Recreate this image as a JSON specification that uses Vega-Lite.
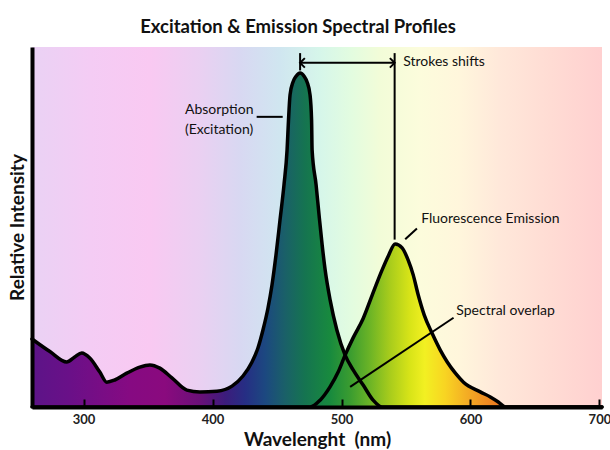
{
  "$schema": "https://vega.github.io/schema/vega-lite/v6.json",
  "width": 570,
  "height": 360,
  "autosize": "none",
  "padding": {"left": 32, "top": 47, "right": 8, "bottom": 43},
  "background": "white",
  "config": {"view": {"stroke": null}, "font": "Lato"},
  "title": {"text": "Excitation & Emission Spectral Profiles", "font": "Lato", "fontSize": 18.5, "fontWeight": "bold", "color": "#111", "anchor": "middle", "dx": -19, "offset": 11},
  "datasets": {
    "bg": [{"x0": 260, "x1": 702, "y0": 0, "y1": 100}],
    "curves": [
      {"curve": "Absorption", "wl": 260, "v": 18.9},
      {"curve": "Absorption", "wl": 273.9, "v": 15.4},
      {"curve": "Absorption", "wl": 286.9, "v": 12.5},
      {"curve": "Absorption", "wl": 293.1, "v": 13.9},
      {"curve": "Absorption", "wl": 298.6, "v": 15.0},
      {"curve": "Absorption", "wl": 304.8, "v": 13.6},
      {"curve": "Absorption", "wl": 312.6, "v": 9.7},
      {"curve": "Absorption", "wl": 318.0, "v": 6.9},
      {"curve": "Absorption", "wl": 324.2, "v": 7.5},
      {"curve": "Absorption", "wl": 333.5, "v": 9.4},
      {"curve": "Absorption", "wl": 343.6, "v": 11.1},
      {"curve": "Absorption", "wl": 351.4, "v": 11.7},
      {"curve": "Absorption", "wl": 359.1, "v": 10.8},
      {"curve": "Absorption", "wl": 368.5, "v": 8.1},
      {"curve": "Absorption", "wl": 380.1, "v": 4.7},
      {"curve": "Absorption", "wl": 390.2, "v": 4.2},
      {"curve": "Absorption", "wl": 403.4, "v": 4.4},
      {"curve": "Absorption", "wl": 415.1, "v": 5.8},
      {"curve": "Absorption", "wl": 423.6, "v": 8.6},
      {"curve": "Absorption", "wl": 430.6, "v": 12.5},
      {"curve": "Absorption", "wl": 435.2, "v": 16.4},
      {"curve": "Absorption", "wl": 439.1, "v": 21.4},
      {"curve": "Absorption", "wl": 443.0, "v": 27.5},
      {"curve": "Absorption", "wl": 446.1, "v": 33.9},
      {"curve": "Absorption", "wl": 449.2, "v": 42.2},
      {"curve": "Absorption", "wl": 452.3, "v": 51.9},
      {"curve": "Absorption", "wl": 455.4, "v": 61.7},
      {"curve": "Absorption", "wl": 457.8, "v": 71.4},
      {"curve": "Absorption", "wl": 458.9, "v": 79.7},
      {"curve": "Absorption", "wl": 460.1, "v": 86.7},
      {"curve": "Absorption", "wl": 462.4, "v": 90.3},
      {"curve": "Absorption", "wl": 464.8, "v": 91.9},
      {"curve": "Absorption", "wl": 467.9, "v": 92.8},
      {"curve": "Absorption", "wl": 471.0, "v": 91.9},
      {"curve": "Absorption", "wl": 473.3, "v": 90.3},
      {"curve": "Absorption", "wl": 475.6, "v": 86.7},
      {"curve": "Absorption", "wl": 476.8, "v": 79.7},
      {"curve": "Absorption", "wl": 477.2, "v": 71.4},
      {"curve": "Absorption", "wl": 480.3, "v": 61.7},
      {"curve": "Absorption", "wl": 482.6, "v": 53.3},
      {"curve": "Absorption", "wl": 485.0, "v": 45.0},
      {"curve": "Absorption", "wl": 487.3, "v": 38.1},
      {"curve": "Absorption", "wl": 491.2, "v": 29.7},
      {"curve": "Absorption", "wl": 496.4, "v": 21.4},
      {"curve": "Absorption", "wl": 502.8, "v": 14.4},
      {"curve": "Absorption", "wl": 509.0, "v": 10.3},
      {"curve": "Absorption", "wl": 516.8, "v": 6.1},
      {"curve": "Absorption", "wl": 524.5, "v": 1.9},
      {"curve": "Absorption", "wl": 531.5, "v": 0},
      {"curve": "Absorption", "wl": 702, "v": 0},
      {"curve": "Emission", "wl": 260, "v": 0},
      {"curve": "Emission", "wl": 475.6, "v": 0},
      {"curve": "Emission", "wl": 483.4, "v": 1.9},
      {"curve": "Emission", "wl": 491.1, "v": 5.6},
      {"curve": "Emission", "wl": 497.4, "v": 9.7},
      {"curve": "Emission", "wl": 502.8, "v": 14.4},
      {"curve": "Emission", "wl": 509.0, "v": 19.2},
      {"curve": "Emission", "wl": 516.8, "v": 24.6},
      {"curve": "Emission", "wl": 523.8, "v": 31.1},
      {"curve": "Emission", "wl": 531.5, "v": 38.1},
      {"curve": "Emission", "wl": 536.2, "v": 41.9},
      {"curve": "Emission", "wl": 541.6, "v": 45.3},
      {"curve": "Emission", "wl": 547.0, "v": 44.2},
      {"curve": "Emission", "wl": 551.7, "v": 40.8},
      {"curve": "Emission", "wl": 555.6, "v": 36.7},
      {"curve": "Emission", "wl": 559.5, "v": 31.1},
      {"curve": "Emission", "wl": 564.1, "v": 25.6},
      {"curve": "Emission", "wl": 570.1, "v": 20.6},
      {"curve": "Emission", "wl": 576.6, "v": 15.8},
      {"curve": "Emission", "wl": 582.0, "v": 12.5},
      {"curve": "Emission", "wl": 588.3, "v": 9.4},
      {"curve": "Emission", "wl": 594.6, "v": 6.9},
      {"curve": "Emission", "wl": 607.6, "v": 4.2},
      {"curve": "Emission", "wl": 615.4, "v": 2.8},
      {"curve": "Emission", "wl": 621.6, "v": 1.4},
      {"curve": "Emission", "wl": 627.1, "v": 0},
      {"curve": "Emission", "wl": 702, "v": 0}
    ],
    "rules": [
      {"name": "excitation peak marker", "x": 467.9, "x2": 467.9, "y": 98.3, "y2": 93.5},
      {"name": "emission peak marker", "x": 541.2, "x2": 541.2, "y": 98.3, "y2": 46.5},
      {"name": "stokes shift", "x": 467.9, "x2": 541.2, "y": 95.6, "y2": 95.6},
      {"name": "absorption pointer", "x": 434.2, "x2": 454.4, "y": 80.6, "y2": 80.6},
      {"name": "emission pointer", "x": 549.4, "x2": 558.5, "y": 46.6, "y2": 49.6},
      {"name": "overlap pointer", "x": 506.7, "x2": 586.9, "y": 5.6, "y2": 24.8}
    ],
    "arrows": [
      {"dir": "left", "x": 467.9, "y": 95.6},
      {"dir": "right", "x": 541.2, "y": 95.6}
    ],
    "labels": [
      {"text": "Strokes shifts", "x": 547.8, "y": 95.7},
      {"text": "Absorption", "x": 378.6, "y": 82.5},
      {"text": "(Excitation)", "x": 378.6, "y": 77.0},
      {"text": "Fluorescence Emission", "x": 561.8, "y": 52.1},
      {"text": "Spectral overlap", "x": 589.0, "y": 26.7}
    ]
  },
  "layer": [
    {
      "data": {"name": "bg"},
      "mark": {"type": "rect", "color": {"gradient": "linear", "x1": 0, "y1": 0, "x2": 1, "y2": 0, "stops": [
        {"offset": 0, "color": "#ead2f4"},
        {"offset": 0.102, "color": "#f4ccf4"},
        {"offset": 0.207, "color": "#f9c9f2"},
        {"offset": 0.295, "color": "#ead0f2"},
        {"offset": 0.365, "color": "#d8d8f2"},
        {"offset": 0.435, "color": "#d0e6f0"},
        {"offset": 0.505, "color": "#d6f6ea"},
        {"offset": 0.558, "color": "#e2fce0"},
        {"offset": 0.61, "color": "#f2fcd8"},
        {"offset": 0.68, "color": "#fcfcdc"},
        {"offset": 0.75, "color": "#fff6dc"},
        {"offset": 0.82, "color": "#ffe8da"},
        {"offset": 0.909, "color": "#ffdcd4"},
        {"offset": 1, "color": "#ffd0d0"}
      ]}},
      "encoding": {
        "x": {"field": "x0", "type": "quantitative", "scale": {"domain": [260, 702], "nice": false, "zero": false},
          "axis": {"values": [300, 400, 500, 600, 700], "grid": false, "domainColor": "black", "domainWidth": 4, "tickColor": "black", "tickWidth": 2, "tickSize": -8, "labelFont": "Lato", "labelFontSize": 13, "labelFontWeight": "bold", "labelColor": "#222", "labelPadding": 14, "labelFlush": false, "title": "Wavelenght \u00a0(nm)", "titleFont": "Lato", "titleFontSize": 19, "titleFontWeight": "bold", "titleColor": "#111", "titlePadding": 4, "zindex": 1}},
        "x2": {"field": "x1"},
        "y": {"field": "y0", "type": "quantitative", "scale": {"domain": [0, 100], "nice": false},
          "axis": {"labels": false, "ticks": false, "grid": false, "domainColor": "black", "domainWidth": 4, "title": "Relative Intensity", "titleFont": "Lato", "titleFontSize": 19, "titleFontWeight": "bold", "titleColor": "#111", "titlePadding": 5, "zindex": 1}},
        "y2": {"field": "y1"}
      }
    },
    {
      "data": {"name": "curves"},
      "mark": {"type": "area", "interpolate": "monotone", "opacity": 1, "color": {"gradient": "linear", "x1": 0, "y1": 0, "x2": 1, "y2": 0, "stops": [
        {"offset": 0, "color": "#5c1488"},
        {"offset": 0.067, "color": "#6a1088"},
        {"offset": 0.172, "color": "#860a82"},
        {"offset": 0.233, "color": "#8a0a7e"},
        {"offset": 0.295, "color": "#6a1078"},
        {"offset": 0.339, "color": "#3c1c7c"},
        {"offset": 0.374, "color": "#262e84"},
        {"offset": 0.409, "color": "#1c4880"},
        {"offset": 0.444, "color": "#1a6068"},
        {"offset": 0.479, "color": "#157450"},
        {"offset": 0.523, "color": "#188a3e"},
        {"offset": 0.558, "color": "#3a9c30"},
        {"offset": 0.593, "color": "#6cb426"},
        {"offset": 0.628, "color": "#a8cc1c"},
        {"offset": 0.663, "color": "#d8e418"},
        {"offset": 0.689, "color": "#f2f022"},
        {"offset": 0.725, "color": "#f8d422"},
        {"offset": 0.76, "color": "#f4b024"},
        {"offset": 0.795, "color": "#f08e22"},
        {"offset": 0.83, "color": "#ec7020"},
        {"offset": 1, "color": "#e05020"}
      ]}},
      "encoding": {
        "x": {"field": "wl", "type": "quantitative"},
        "y": {"field": "v", "type": "quantitative", "stack": null},
        "detail": {"field": "curve"}
      }
    },
    {
      "data": {"name": "curves"},
      "mark": {"type": "line", "interpolate": "monotone", "color": "black", "strokeWidth": 3.5, "strokeJoin": "round", "strokeCap": "round"},
      "encoding": {
        "x": {"field": "wl", "type": "quantitative"},
        "y": {"field": "v", "type": "quantitative"},
        "detail": {"field": "curve"},
        "order": {"field": "wl"}
      }
    },
    {
      "data": {"name": "rules"},
      "mark": {"type": "rule", "color": "black", "strokeWidth": 2},
      "encoding": {
        "x": {"field": "x", "type": "quantitative"},
        "x2": {"field": "x2"},
        "y": {"field": "y", "type": "quantitative"},
        "y2": {"field": "y2"}
      }
    },
    {
      "data": {"name": "arrows"},
      "mark": {"type": "point", "filled": false, "stroke": "black", "strokeWidth": 2, "size": 90, "opacity": 1},
      "encoding": {
        "x": {"field": "x", "type": "quantitative"},
        "y": {"field": "y", "type": "quantitative"},
        "shape": {"field": "dir", "type": "nominal", "scale": {"domain": ["left", "right"], "range": ["M1,-1L0,0L1,1", "M-1,-1L0,0L-1,1"]}, "legend": null}
      }
    },
    {
      "data": {"name": "labels"},
      "mark": {"type": "text", "align": "left", "baseline": "middle", "font": "Lato", "fontSize": 14, "color": "#111"},
      "encoding": {
        "x": {"field": "x", "type": "quantitative"},
        "y": {"field": "y", "type": "quantitative"},
        "text": {"field": "text"}
      }
    }
  ]
}
